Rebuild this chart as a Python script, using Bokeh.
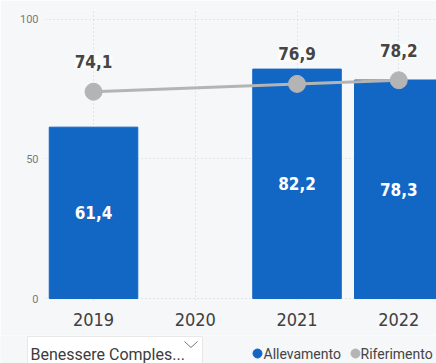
from bokeh.plotting import figure
from bokeh.models import ColumnDataSource, FixedTicker, LabelSet, Range1d
from bokeh.layouts import column
from bokeh.core.properties import value
from bokeh.embed import file_html
from bokeh.resources import INLINE

# ---- data ----
years = ["2019", "2020", "2021", "2022"]
allevamento = [61.4, None, 82.2, 78.3]
riferimento = [74.1, None, 76.9, 78.2]
series_names = ["Allevamento", "Riferimento"]
y_ticks = [0, 50, 100]
slicer_text = "Benessere Comples..."

BG = "#f6f7f9"
BLUE = "#1266c4"
GRAY = "#b4b4b4"
NARROW = "'Liberation Sans Narrow', 'DejaVu Sans Condensed', sans-serif"

xi = list(range(len(years)))

bar_x = [i for i, v in zip(xi, allevamento) if v is not None]
bar_v = [v for v in allevamento if v is not None]
bar_src = ColumnDataSource(dict(
    x=bar_x, top=bar_v, mid=[v / 2 for v in bar_v],
    lab=[f"{v:.1f}".replace(".", ",") for v in bar_v]))

ln_x = [i for i, v in zip(xi, riferimento) if v is not None]
ln_v = [v for v in riferimento if v is not None]
ln_src = ColumnDataSource(dict(
    x=ln_x, y=ln_v, lab=[f"{v:.1f}".replace(".", ",") for v in ln_v]))

p = figure(width=436, height=335, output_backend="svg", toolbar_location=None,
           x_range=Range1d(-0.472, 3.371), y_range=Range1d(-0.7, 103.2),
           min_border_left=45, min_border_right=0, min_border_top=10,
           min_border_bottom=35)
p.frame_align = False
p.background_fill_color = BG
p.border_fill_color = BG
p.outline_line_color = None

p.vbar(x="x", top="top", bottom=0, width=0.87, color=BLUE, source=bar_src)
p.line(x="x", y="y", line_color=GRAY, line_width=3, source=ln_src)
p.scatter(x="x", y="y", size=17, color=GRAY, source=ln_src)

p.add_layout(LabelSet(x="x", y="mid", text="lab", source=bar_src,
                      text_color="white", text_font=value(NARROW),
                      text_font_style="bold", text_font_size="17px",
                      text_align="center", text_baseline="middle"))
p.add_layout(LabelSet(x="x", y="y", text="lab", source=ln_src, y_offset=30,
                      text_color="#454545", text_font=value(NARROW),
                      text_font_style="bold", text_font_size="17px",
                      text_align="center", text_baseline="middle",
                      background_fill_color="#fcfcfd", background_fill_alpha=1))

# axes
p.xaxis.ticker = FixedTicker(ticks=xi)
p.xaxis.major_label_overrides = {i: y for i, y in zip(xi, years)}
p.xaxis.axis_line_color = None
p.xaxis.major_tick_line_color = None
p.xaxis.minor_tick_line_color = None
p.xaxis.major_label_standoff = 6
p.xaxis.major_label_text_font = NARROW
p.xaxis.major_label_text_font_size = "18px"
p.xaxis.major_label_text_color = "#404040"

p.yaxis.ticker = FixedTicker(ticks=y_ticks)
p.yaxis.axis_line_color = None
p.yaxis.major_tick_line_color = None
p.yaxis.minor_tick_line_color = None
p.yaxis.major_label_standoff = 1
p.yaxis.major_label_text_font = "Roboto"
p.yaxis.major_label_text_font_size = "11px"
p.yaxis.major_label_text_color = "#7a7a7a"

p.xgrid.ticker = FixedTicker(ticks=xi)
p.xgrid.grid_line_color = "#cfd2d6"
p.xgrid.grid_line_dash = "1 3"
p.ygrid.grid_line_color = "#cfd2d6"
p.ygrid.grid_line_dash = "1 3"

# ---- bottom strip: slicer + legend ----
q = figure(width=436, height=28, output_backend="svg", toolbar_location=None,
           x_range=Range1d(0, 436), y_range=Range1d(0, 28),
           x_axis_location=None, y_axis_location=None,
           min_border=0)
q.frame_align = False
q.background_fill_color = BG
q.border_fill_color = BG
q.outline_line_color = None
q.grid.visible = False

q.quad(left=27, right=202, bottom=-5, top=27, fill_color="white",
       line_color="#e8e8e8", line_width=1)
q.text(x=[30], y=[9], text=[slicer_text], text_font=value("Roboto"),
       text_font_size="16px", text_color="#3c3c3c", text_baseline="middle")
q.line(x=[184, 190.5, 197], y=[22, 16, 22], line_color="#777777", line_width=1)

q.scatter(x=[257], y=[10], size=9, color=BLUE)
q.text(x=[263], y=[10], text=[series_names[0]], text_font=value("Roboto"),
       text_font_size="14px", text_color="#444444", text_baseline="middle")
q.scatter(x=[355], y=[10], size=9, color=GRAY)
q.text(x=[360], y=[10], text=[series_names[1]], text_font=value("Roboto"),
       text_font_size="14px", text_color="#444444", text_baseline="middle")

layout = column(p, q, spacing=0)
open("out.html", "w").write(file_html(layout, INLINE))
